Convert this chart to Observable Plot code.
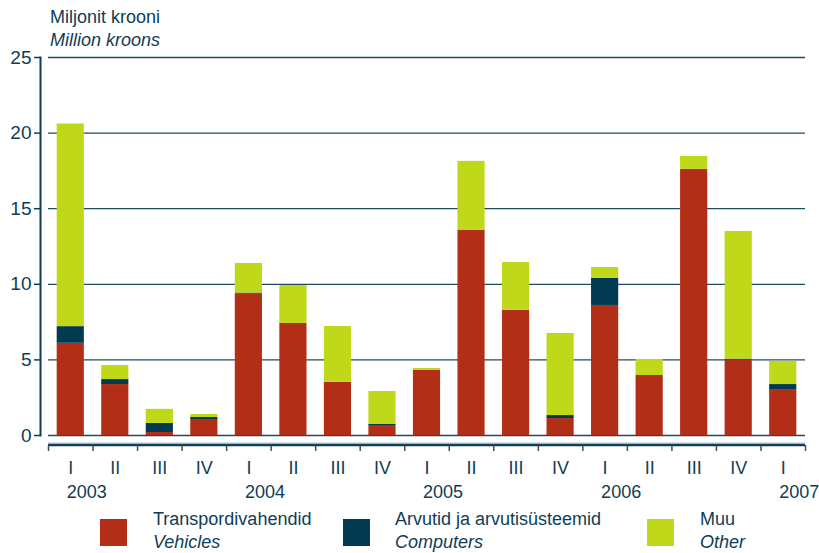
<!DOCTYPE html>
<html>
<head>
<meta charset="utf-8">
<script src="https://cdn.jsdelivr.net/npm/d3@7"></script>
<script src="https://cdn.jsdelivr.net/npm/@observablehq/plot@0.6"></script>
<style>
  html, body { margin: 0; padding: 0; background: #fff; }
  body { width: 819px; height: 553px; position: relative; overflow: hidden;
         font-family: "Liberation Sans", Arial, sans-serif; color: #0f3d56; }
  #head { position: absolute; left: 50px; top: 5.5px; font-size: 18px; line-height: 23px; }
  #chart { position: absolute; left: 0; top: 50px; }
  .leg { position: absolute; top: 508px; font-size: 18px; line-height: 23px; }
  .sw { position: absolute; width: 27px; height: 27px; top: 519px; }
  i { font-style: italic; }
</style>
</head>
<body>
<div id="head">Miljonit krooni<br><i>Million kroons</i></div>
<div id="chart"></div>
<div id="legend"></div>
<script>
const quarters = ["I","II","III","IV","I","II","III","IV","I","II","III","IV","I","II","III","IV","I"];
const years    = [2003,2003,2003,2003,2004,2004,2004,2004,2005,2005,2005,2005,2006,2006,2006,2006,2007];
const vehicles  = [6.1, 3.37, 0.2, 1.06, 9.35, 7.41, 3.51, 0.66, 4.30, 13.56, 8.27, 1.12, 8.6, 3.97, 17.6, 5.0, 3.04];
const computers = [1.1, 0.33, 0.6, 0.13, 0.07, 0.0, 0.0, 0.09, 0.0, 0.0, 0.0, 0.2, 1.79, 0.0, 0.0, 0.05, 0.33];
const other     = [13.4, 0.93, 0.93, 0.2, 1.96, 2.51, 3.7, 2.16, 0.13, 4.57, 3.17, 5.43, 0.72, 1.06, 0.86, 8.45, 1.53];
const seriesEt = ["Transpordivahendid", "Arvutid ja arvutisüsteemid", "Muu"];
const seriesEn = ["Vehicles", "Computers", "Other"];
const colors = ["#b22e16", "#023a52", "#bfd91a"];
const yTicks = [0, 5, 10, 15, 20, 25];

const navy = "#0f3d56";
const keys = quarters.map((q, i) => years[i] + " " + q);
const seriesValues = [vehicles, computers, other];
const rows = [];
keys.forEach((k, i) => seriesValues.forEach((vals, s) => rows.push({key: k, series: seriesEt[s], value: vals[i]})));
const yearRows = keys.map((k, i) => ({key: k, year: years[i], first: i === 0 || years[i] !== years[i - 1]})).filter(d => d.first);

const W = 819, H = 455, mL = 40, mR = 14, inL = 8;
const step = (W - mR - mL - inL) / keys.length;

const plot = Plot.plot({
  width: W, height: H,
  marginTop: 7, marginBottom: 70, marginLeft: mL, marginRight: mR,
  style: {fontFamily: "'Liberation Sans', Arial, sans-serif", fontSize: "18px", color: navy, background: "white", overflow: "visible"},
  x: {type: "band", domain: keys, insetLeft: inL, paddingInner: 0.39, paddingOuter: 0.195, round: false, axis: null},
  y: {domain: [0, 25], axis: null},
  color: {domain: seriesEt, range: colors},
  marks: [
    Plot.ruleY(yTicks, {y: d => d, insetLeft: inL, stroke: "#1f4b60", strokeWidth: 1.3}),
    Plot.barY(rows, {x: "key", y: "value", fill: "series"}),
    Plot.frame({anchor: "left", stroke: navy, strokeWidth: 2}),
    Plot.axisY({ticks: yTicks, anchor: "left", tickSize: 6, tickPadding: 3, fontSize: 19, color: navy, strokeWidth: 1.5, label: null}),
    Plot.ruleY([0], {y: d => d, dy: 7.5, insetLeft: inL, stroke: "#a9c4d0", strokeWidth: 1}),
    Plot.ruleY([0], {y: d => d, dy: 9.5, insetLeft: inL, stroke: navy, strokeWidth: 2.5}),
    Plot.axisX({ticks: keys, anchor: "bottom", tickSize: 6, insetBottom: -10, dx: -step / 2, tickFormat: () => "", stroke: "#4a4a4a", strokeWidth: 1.5, label: null}),
    Plot.axisX({ticks: [keys[keys.length - 1]], anchor: "bottom", tickSize: 6, insetBottom: -10, dx: step / 2, tickFormat: () => "", stroke: "#4a4a4a", strokeWidth: 1.5, label: null}),
    Plot.text(keys, {x: d => d, text: (d, i) => quarters[i], frameAnchor: "bottom", lineAnchor: "bottom", dy: 38, fontSize: 18, fill: navy}),
    Plot.text(yearRows, {x: "key", text: d => String(d.year), frameAnchor: "bottom", lineAnchor: "bottom", textAnchor: "start", dx: -4, dy: 62, fontSize: 18, fill: navy})
  ]
});
document.getElementById("chart").appendChild(plot);

const legend = document.getElementById("legend");
const swX = [100, 343, 647], txX = [153, 395, 700];
seriesEt.forEach((name, s) => {
  const sw = document.createElement("div");
  sw.className = "sw"; sw.style.left = swX[s] + "px"; sw.style.background = colors[s];
  legend.appendChild(sw);
  const t = document.createElement("div");
  t.className = "leg"; t.style.left = txX[s] + "px";
  t.innerHTML = name + "<br><i>" + seriesEn[s] + "</i>";
  legend.appendChild(t);
});
</script>
</body>
</html>
